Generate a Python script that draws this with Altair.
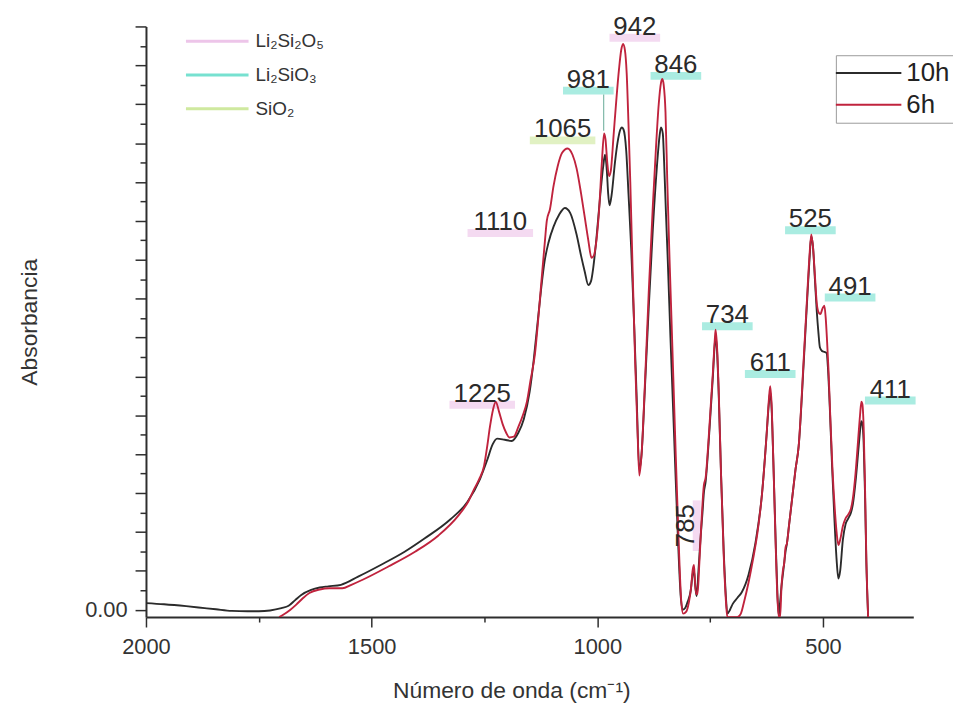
import altair as alt
import pandas as pd

FONT = "Liberation Sans"

# ---- spectrum 10h (black) ----
wn_10h = [2000, 1960, 1911, 1870, 1845, 1810, 1775, 1750, 1725, 1700, 1684, 1670, 1656, 1634, 1615,
          1596, 1568, 1530, 1480, 1427, 1383, 1326, 1288, 1260, 1244, 1232, 1222, 1205, 1190, 1175,
          1163, 1150, 1141, 1134, 1125, 1117, 1108, 1097, 1085, 1072, 1060, 1046, 1036, 1028, 1020,
          1014, 1009, 1002, 994, 987, 983, 979, 976, 973, 968, 961, 954, 949, 946, 942, 936, 931,
          925, 918, 913, 907, 902, 895, 886, 877, 868, 862, 859, 855, 852, 848, 844, 838, 830, 822,
          815, 811, 805, 800, 793, 789, 786, 783, 780, 776, 771, 767, 764, 760, 754, 749, 744, 740,
          738, 735, 731, 726, 720, 715, 712, 706, 700, 690, 680, 665, 650, 635, 625, 620, 617, 614,
          610, 605, 601, 598, 595, 592, 589, 586, 583, 580, 575, 568, 561, 554, 543, 535, 530, 526,
          522, 518, 514, 510, 507, 502, 497, 492, 489, 485, 480, 475, 470, 466, 462, 456, 450, 444,
          438, 434, 427, 421, 417, 415, 413, 410, 407, 404, 400]
abs_10h = [0.017, 0.014, 0.009, 0.004, 0.001, -0.003, -0.004, -0.004, -0.002, 0.004, 0.010, 0.024,
           0.038, 0.051, 0.057, 0.060, 0.064, 0.085, 0.115, 0.149, 0.183, 0.232, 0.277, 0.336,
           0.385, 0.425, 0.440, 0.437, 0.434, 0.455, 0.490, 0.560, 0.642, 0.720, 0.820, 0.895,
           0.945, 0.985, 1.015, 1.033, 1.020, 0.965, 0.910, 0.870, 0.835, 0.845, 0.880, 0.955,
           1.060, 1.140, 1.170, 1.130, 1.070, 1.040, 1.070, 1.150, 1.210, 1.235, 1.240, 1.235,
           1.180, 1.070, 0.930, 0.720, 0.550, 0.360, 0.400, 0.560, 0.780, 0.980, 1.140, 1.220,
           1.240, 1.225, 1.150, 1.020, 0.900, 0.700, 0.450, 0.200, 0.030, 0.000, 0.005, 0.020,
           0.050, 0.090, 0.100, 0.060, 0.035, 0.100, 0.190, 0.250, 0.300, 0.330, 0.420, 0.510,
           0.600, 0.680, 0.700, 0.670, 0.550, 0.350, 0.150, 0.030, -0.010, 0.000, 0.015, 0.030,
           0.045, 0.090, 0.170, 0.300, 0.450, 0.530, 0.560, 0.520, 0.380, 0.180, 0.040, -0.015,
           0.020, 0.060, 0.090, 0.120, 0.150, 0.170, 0.220, 0.290, 0.360, 0.420, 0.630, 0.800,
           0.900, 0.960, 0.930, 0.850, 0.770, 0.710, 0.675, 0.665, 0.663, 0.660, 0.620, 0.520,
           0.370, 0.240, 0.130, 0.080, 0.100, 0.180, 0.220, 0.235, 0.250, 0.270, 0.340, 0.420,
           0.470, 0.485, 0.480, 0.430, 0.300, 0.120, -0.019]

# ---- spectrum 6h (red) ----
wn_6h = [1705, 1696, 1680, 1667, 1652, 1638, 1615, 1594, 1565, 1545, 1520, 1463, 1404, 1352, 1308,
         1285, 1273, 1262, 1251, 1244, 1238, 1231, 1225, 1218, 1210, 1202, 1195, 1185, 1175, 1165,
         1156, 1148, 1138, 1130, 1122, 1116, 1112, 1105, 1097, 1088, 1078, 1066, 1055, 1046, 1036,
         1028, 1020, 1013, 1008, 1002, 996, 990, 985, 982, 978, 974, 970, 964, 958, 952, 947, 943,
         939, 935, 931, 927, 922, 916, 911, 907, 902, 895, 886, 877, 870, 864, 859, 856, 853, 849,
         845, 840, 835, 828, 820, 814, 810, 803, 797, 792, 789, 786, 784, 781, 778, 774, 770, 764,
         760, 754, 749, 744, 740, 738, 735, 731, 726, 720, 715, 712, 700, 690, 682, 675, 665, 655,
         645, 635, 625, 620, 617, 614, 610, 605, 601, 598, 595, 592, 589, 586, 583, 580, 575, 568,
         561, 554, 543, 535, 530, 526, 522, 518, 514, 510, 506, 501, 497, 494, 491, 488, 484, 479,
         474, 470, 466, 462, 456, 450, 444, 438, 434, 428, 422, 418, 415, 413, 410, 407, 404, 400]
abs_6h = [-0.019, -0.013, 0.000, 0.013, 0.030, 0.043, 0.052, 0.055, 0.055, 0.064, 0.077, 0.111,
          0.149, 0.191, 0.242, 0.280, 0.310, 0.335, 0.370, 0.420, 0.470, 0.515, 0.535, 0.510,
          0.478, 0.455, 0.443, 0.445, 0.470, 0.500, 0.535, 0.590, 0.660, 0.760, 0.870, 0.950,
          1.000, 1.030, 1.090, 1.140, 1.175, 1.186, 1.170, 1.135, 1.070, 1.010, 0.950, 0.905,
          0.910, 0.950, 1.030, 1.150, 1.225, 1.210, 1.150, 1.115, 1.130, 1.220, 1.310, 1.390,
          1.440, 1.455, 1.440, 1.380, 1.250, 1.100, 0.880, 0.630, 0.460, 0.345, 0.400, 0.570,
          0.820, 1.040, 1.190, 1.300, 1.355, 1.365, 1.350, 1.280, 1.100, 0.900, 0.720, 0.460,
          0.180, 0.020, -0.010, -0.005, 0.020, 0.060, 0.100, 0.115, 0.080, 0.040, 0.040, 0.120,
          0.210, 0.320, 0.340, 0.430, 0.520, 0.610, 0.690, 0.720, 0.680, 0.560, 0.350, 0.140,
          0.020, -0.019, -0.019, -0.019, -0.010, 0.020, 0.070, 0.130, 0.200, 0.300, 0.450, 0.540,
          0.575, 0.530, 0.380, 0.170, 0.030, -0.019, -0.019, 0.060, 0.100, 0.120, 0.160, 0.170,
          0.220, 0.290, 0.360, 0.420, 0.640, 0.810, 0.910, 0.965, 0.930, 0.860, 0.790, 0.765,
          0.760, 0.775, 0.782, 0.750, 0.690, 0.620, 0.500, 0.360, 0.260, 0.200, 0.166, 0.180,
          0.215, 0.235, 0.245, 0.260, 0.285, 0.350, 0.440, 0.500, 0.535, 0.530, 0.470, 0.320,
          0.130, -0.019]

series_names = ["10h", "6h"]
series_colors = ["#2b2b2b", "#c0233d"]

# ---- peak annotations ----
peak_text = ["942", "846", "981", "1065", "1110", "1225", "734", "611", "525", "491", "411", "785"]
peak_wn = [917, 826, 1020, 1077, 1215, 1255, 712, 617, 528, 440, 351, 804]
peak_abs = [1.499, 1.401, 1.363, 1.235, 0.997, 0.555, 0.757, 0.634, 1.004, 0.831, 0.566, 0.216]
phase_names = ["Li₂Si₂O₅", "Li₂SiO₃", "SiO₂"]
phase_colors = ["#e9b6e4", "#55dac4", "#c3e387"]
peak_phase = ["Li₂Si₂O₅", "Li₂SiO₃", "Li₂SiO₃", "SiO₂", "Li₂Si₂O₅", "Li₂Si₂O₅",
              "Li₂SiO₃", "Li₂SiO₃", "Li₂SiO₃", "Li₂SiO₃", "Li₂SiO₃", "Li₂Si₂O₅"]
peak_angle = [0, 0, 0, 0, 0, 0, 0, 0, 0, 0, 0, 270]

# leader line of the 981 label
leader_wn = [986]
leader_top = [1.325]
leader_bottom = [1.232]

# ---- axes ----
x_ticks = [2000, 1750, 1500, 1250, 1000, 750, 500]
y_ticks = [0.0, 0.05, 0.1, 0.15, 0.2, 0.25, 0.3, 0.35, 0.4, 0.45, 0.5, 0.55, 0.6, 0.65, 0.7, 0.75,
           0.8, 0.85, 0.9, 0.95, 1.0, 1.05, 1.1, 1.15, 1.2, 1.25, 1.3, 1.35, 1.4, 1.45, 1.5]
x_domain = [300, 2000]
y_domain = [-0.019, 1.5]

df_lines = pd.concat([
    pd.DataFrame({"wn": wn_10h, "A": abs_10h, "serie": series_names[0]}),
    pd.DataFrame({"wn": wn_6h, "A": abs_6h, "serie": series_names[1]}),
], ignore_index=True)
df_labels = pd.DataFrame({"wn": peak_wn, "A": peak_abs, "txt": peak_text,
                          "fase": peak_phase, "ang": peak_angle})
df_leader = pd.DataFrame({"wn": leader_wn, "A": leader_top, "A2": leader_bottom})

AX = "#2e2e2e"
x_enc = alt.X(
    "wn:Q",
    scale=alt.Scale(domain=x_domain, reverse=True, nice=False, zero=False),
    axis=alt.Axis(
        values=x_ticks, format="d", grid=False,
        labelExpr="datum.value % 500 === 0 ? datum.label : ''",
        tickSize={"condition": {"test": "datum.value % 500 === 0", "value": 10}, "value": 5},
        tickWidth=1.5, tickColor=AX, domainColor=AX, domainWidth=2,
        labelFont=FONT, labelFontSize=22, labelColor="#333", labelPadding=10,
        labelFlush=False, labelOverlap=False,
        title="Número de onda (cm⁻¹)", titleFont=FONT, titleFontSize=23,
        titleFontWeight="normal", titleColor="#333", titleX=368, titleY=63,
        titleBaseline="top",
    ),
)
y_enc = alt.Y(
    "A:Q",
    scale=alt.Scale(domain=y_domain, nice=False, zero=False),
    axis=alt.Axis(
        values=y_ticks, grid=False, format=".2f",
        labelExpr="abs(datum.value) < 0.0001 ? datum.label : ''",
        tickSize={"condition": {"test": "abs(datum.value*10 - round(datum.value*10)) < 0.001",
                                "value": 11}, "value": 6},
        tickWidth=1.5, tickColor=AX, domainColor=AX, domainWidth=2,
        labelFont=FONT, labelFontSize=22, labelColor="#333", labelPadding=8,
        labelFlush=False, labelOverlap=False,
        title="Absorbancia", titleFont=FONT, titleFontSize=23, titleFontWeight="normal",
        titleColor="#333", titlePadding=43,
    ),
)

phase_scale = alt.Scale(domain=phase_names, range=phase_colors)

lines = alt.Chart(df_lines).mark_line(strokeWidth=1.9, interpolate="monotone", clip=True).encode(
    x=x_enc, y=y_enc,
    order=alt.Order("wn:Q", sort="descending"),
    color=alt.Color(
        "serie:N",
        scale=alt.Scale(domain=series_names, range=series_colors),
        legend=alt.Legend(
            orient="none", legendX=695, legendY=29, direction="vertical", title=None,
            symbolType="M-2.0,0H5.33", symbolSize=324, symbolStrokeWidth=2,
            labelFont=FONT, labelFontSize=26, labelColor="#222", labelOffset=40,
            rowPadding=6, padding=5, strokeColor="#9a9a9a", fillColor="white",
        ),
    ),
)

# coloured highlight bands under the peak labels (phase assignment)
band_h = alt.Chart(df_labels).transform_filter("datum.ang == 0").transform_calculate(
    w="length(datum.txt) * 15 + 6"
).mark_tick(orient="horizontal", thickness=8, yOffset=11, opacity=0.5).encode(
    x=x_enc, y=y_enc,
    size=alt.Size("w:Q", scale=None, legend=None),
    fill=alt.Fill(
        "fase:N", scale=phase_scale,
        legend=alt.Legend(
            orient="none", legendX=40.3, legendY=5.5, direction="vertical", title=None,
            symbolType="M-1.19,-0.19H6.69V0.19H-1.19Z", symbolSize=256, symbolStrokeWidth=0,
            labelFont=FONT, labelFontSize=19, labelColor="#333", labelOffset=51,
            rowPadding=14, padding=0, symbolOpacity=0.8,
        ),
    ),
)
band_v = alt.Chart(df_labels).transform_filter("datum.ang != 0").transform_calculate(
    w="length(datum.txt) * 15 + 6"
).mark_tick(orient="vertical", thickness=8, xOffset=11, opacity=0.5).encode(
    x=x_enc, y=y_enc,
    size=alt.Size("w:Q", scale=None, legend=None),
    fill=alt.Fill("fase:N", scale=phase_scale, legend=None),
)

texts = alt.Chart(df_labels).mark_text(
    font=FONT, fontSize=26, color="#2a2a2a", align="center", baseline="middle",
).encode(
    x=x_enc, y=y_enc, text="txt:N",
    angle=alt.Angle("ang:Q", scale=None),
)

leader = alt.Chart(df_leader).mark_rule(color="#7fb8a8", strokeWidth=1.2).encode(
    x=x_enc, y=y_enc, y2="A2:Q",
)

chart = alt.layer(band_h, band_v, leader, lines, texts).properties(
    width=773, height=595,
    autosize=alt.AutoSizeParams(type="none"),
    padding={"left": 139, "top": 16, "right": 40, "bottom": 86},
    background="white",
).configure_view(stroke=None)

chart.save("out.html", embed_options={"renderer": "svg", "actions": False})
